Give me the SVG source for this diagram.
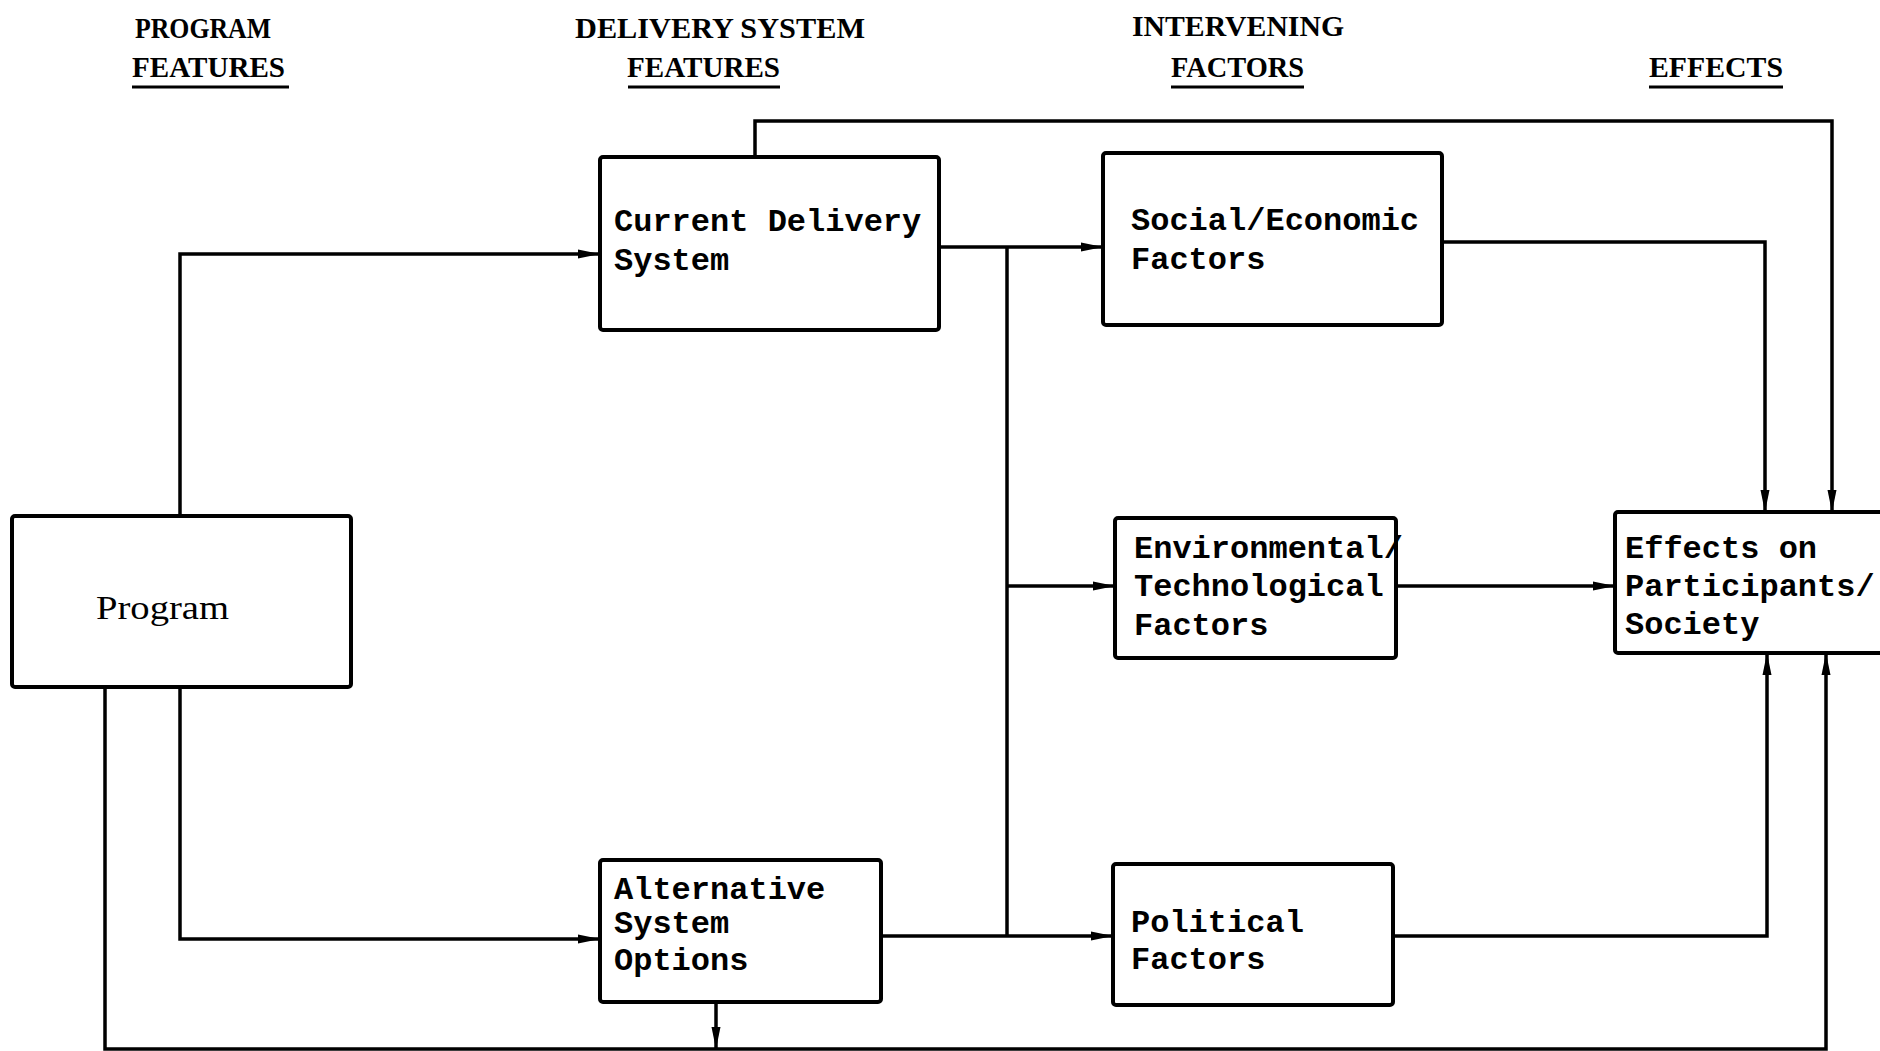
<svg xmlns="http://www.w3.org/2000/svg" width="1880" height="1051" viewBox="0 0 1880 1051">
<style>
.hdr{font-family:"Liberation Serif",serif;font-weight:bold;font-size:30px;fill:#000}
.ul{stroke:#000;stroke-width:3;fill:none}
.box{fill:#fff;stroke:#000;stroke-width:4}
.lbl{font-family:"Liberation Mono",monospace;font-weight:bold;font-size:32px;fill:#000}
.prog{font-family:"Liberation Serif",serif;font-size:34px;fill:#000}
.con{stroke:#000;stroke-width:3.5;fill:none}
</style>
<defs>
<marker id="arr" viewBox="0 0 22 12" refX="22" refY="6" markerWidth="22" markerHeight="12" markerUnits="userSpaceOnUse" orient="auto">
<path d="M0,1.5 L22,6 L0,10.5 Z" fill="#000"/>
</marker>
</defs>
<rect width="1880" height="1051" fill="#fff"/>
<g id="headers">
<text class="hdr" x="135" y="38" textLength="136" lengthAdjust="spacingAndGlyphs">PROGRAM</text>
<text class="hdr" x="132" y="77" textLength="153" lengthAdjust="spacingAndGlyphs">FEATURES</text>
<line class="ul" x1="132" y1="87" x2="289" y2="87"/>
<text class="hdr" x="575" y="38" textLength="290" lengthAdjust="spacingAndGlyphs">DELIVERY SYSTEM</text>
<text class="hdr" x="627" y="77" textLength="153" lengthAdjust="spacingAndGlyphs">FEATURES</text>
<line class="ul" x1="628" y1="87" x2="780" y2="87"/>
<text class="hdr" x="1132" y="36" textLength="212" lengthAdjust="spacingAndGlyphs">INTERVENING</text>
<text class="hdr" x="1171" y="77" textLength="133" lengthAdjust="spacingAndGlyphs">FACTORS</text>
<line class="ul" x1="1171" y1="87" x2="1304" y2="87"/>
<text class="hdr" x="1649" y="77" textLength="134" lengthAdjust="spacingAndGlyphs">EFFECTS</text>
<line class="ul" x1="1649" y1="87" x2="1783" y2="87"/>
</g>
<g id="connectors">
<path class="con" d="M180,516 V254 H600" marker-end="url(#arr)"/>
<path class="con" d="M180,687 V939 H600" marker-end="url(#arr)"/>
<path class="con" d="M105,687 V1049 H1826 V653" marker-end="url(#arr)"/>
<path class="con" d="M716,1002 V1049" marker-end="url(#arr)"/>
<path class="con" d="M755,157 V121 H1832 V512" marker-end="url(#arr)"/>
<path class="con" d="M939,247 H1103" marker-end="url(#arr)"/>
<path class="con" d="M1007,247 V936"/>
<path class="con" d="M1007,586 H1115" marker-end="url(#arr)"/>
<path class="con" d="M881,936 H1113" marker-end="url(#arr)"/>
<path class="con" d="M1442,242 H1765 V512" marker-end="url(#arr)"/>
<path class="con" d="M1396,586 H1615" marker-end="url(#arr)"/>
<path class="con" d="M1393,936 H1767 V653" marker-end="url(#arr)"/>
</g>
<g id="program">
<rect class="box" x="12" y="516" width="339" height="171" rx="3"/>
<text class="prog" x="96" y="619" textLength="133" lengthAdjust="spacingAndGlyphs">Program</text>
</g>
<g id="current-delivery">
<rect class="box" x="600" y="157" width="339" height="173" rx="3"/>
<text class="lbl" x="614" y="231">Current Delivery</text>
<text class="lbl" x="614" y="270">System</text>
</g>
<g id="alternative">
<rect class="box" x="600" y="860" width="281" height="142" rx="3"/>
<text class="lbl" x="614" y="899">Alternative</text>
<text class="lbl" x="614" y="933">System</text>
<text class="lbl" x="614" y="970">Options</text>
</g>
<g id="social">
<rect class="box" x="1103" y="153" width="339" height="172" rx="3"/>
<text class="lbl" x="1131" y="230">Social/Economic</text>
<text class="lbl" x="1131" y="269">Factors</text>
</g>
<g id="environmental">
<rect class="box" x="1115" y="518" width="281" height="140" rx="3"/>
<text class="lbl" x="1134" y="558">Environmental/</text>
<text class="lbl" x="1134" y="596">Technological</text>
<text class="lbl" x="1134" y="635">Factors</text>
</g>
<g id="political">
<rect class="box" x="1113" y="864" width="280" height="141" rx="3"/>
<text class="lbl" x="1131" y="932">Political</text>
<text class="lbl" x="1131" y="969">Factors</text>
</g>
<g id="effects">
<rect class="box" x="1615" y="512" width="280" height="141" rx="3"/>
<text class="lbl" x="1625" y="558">Effects on</text>
<text class="lbl" x="1625" y="596">Participants/</text>
<text class="lbl" x="1625" y="634">Society</text>
</g>
</svg>
